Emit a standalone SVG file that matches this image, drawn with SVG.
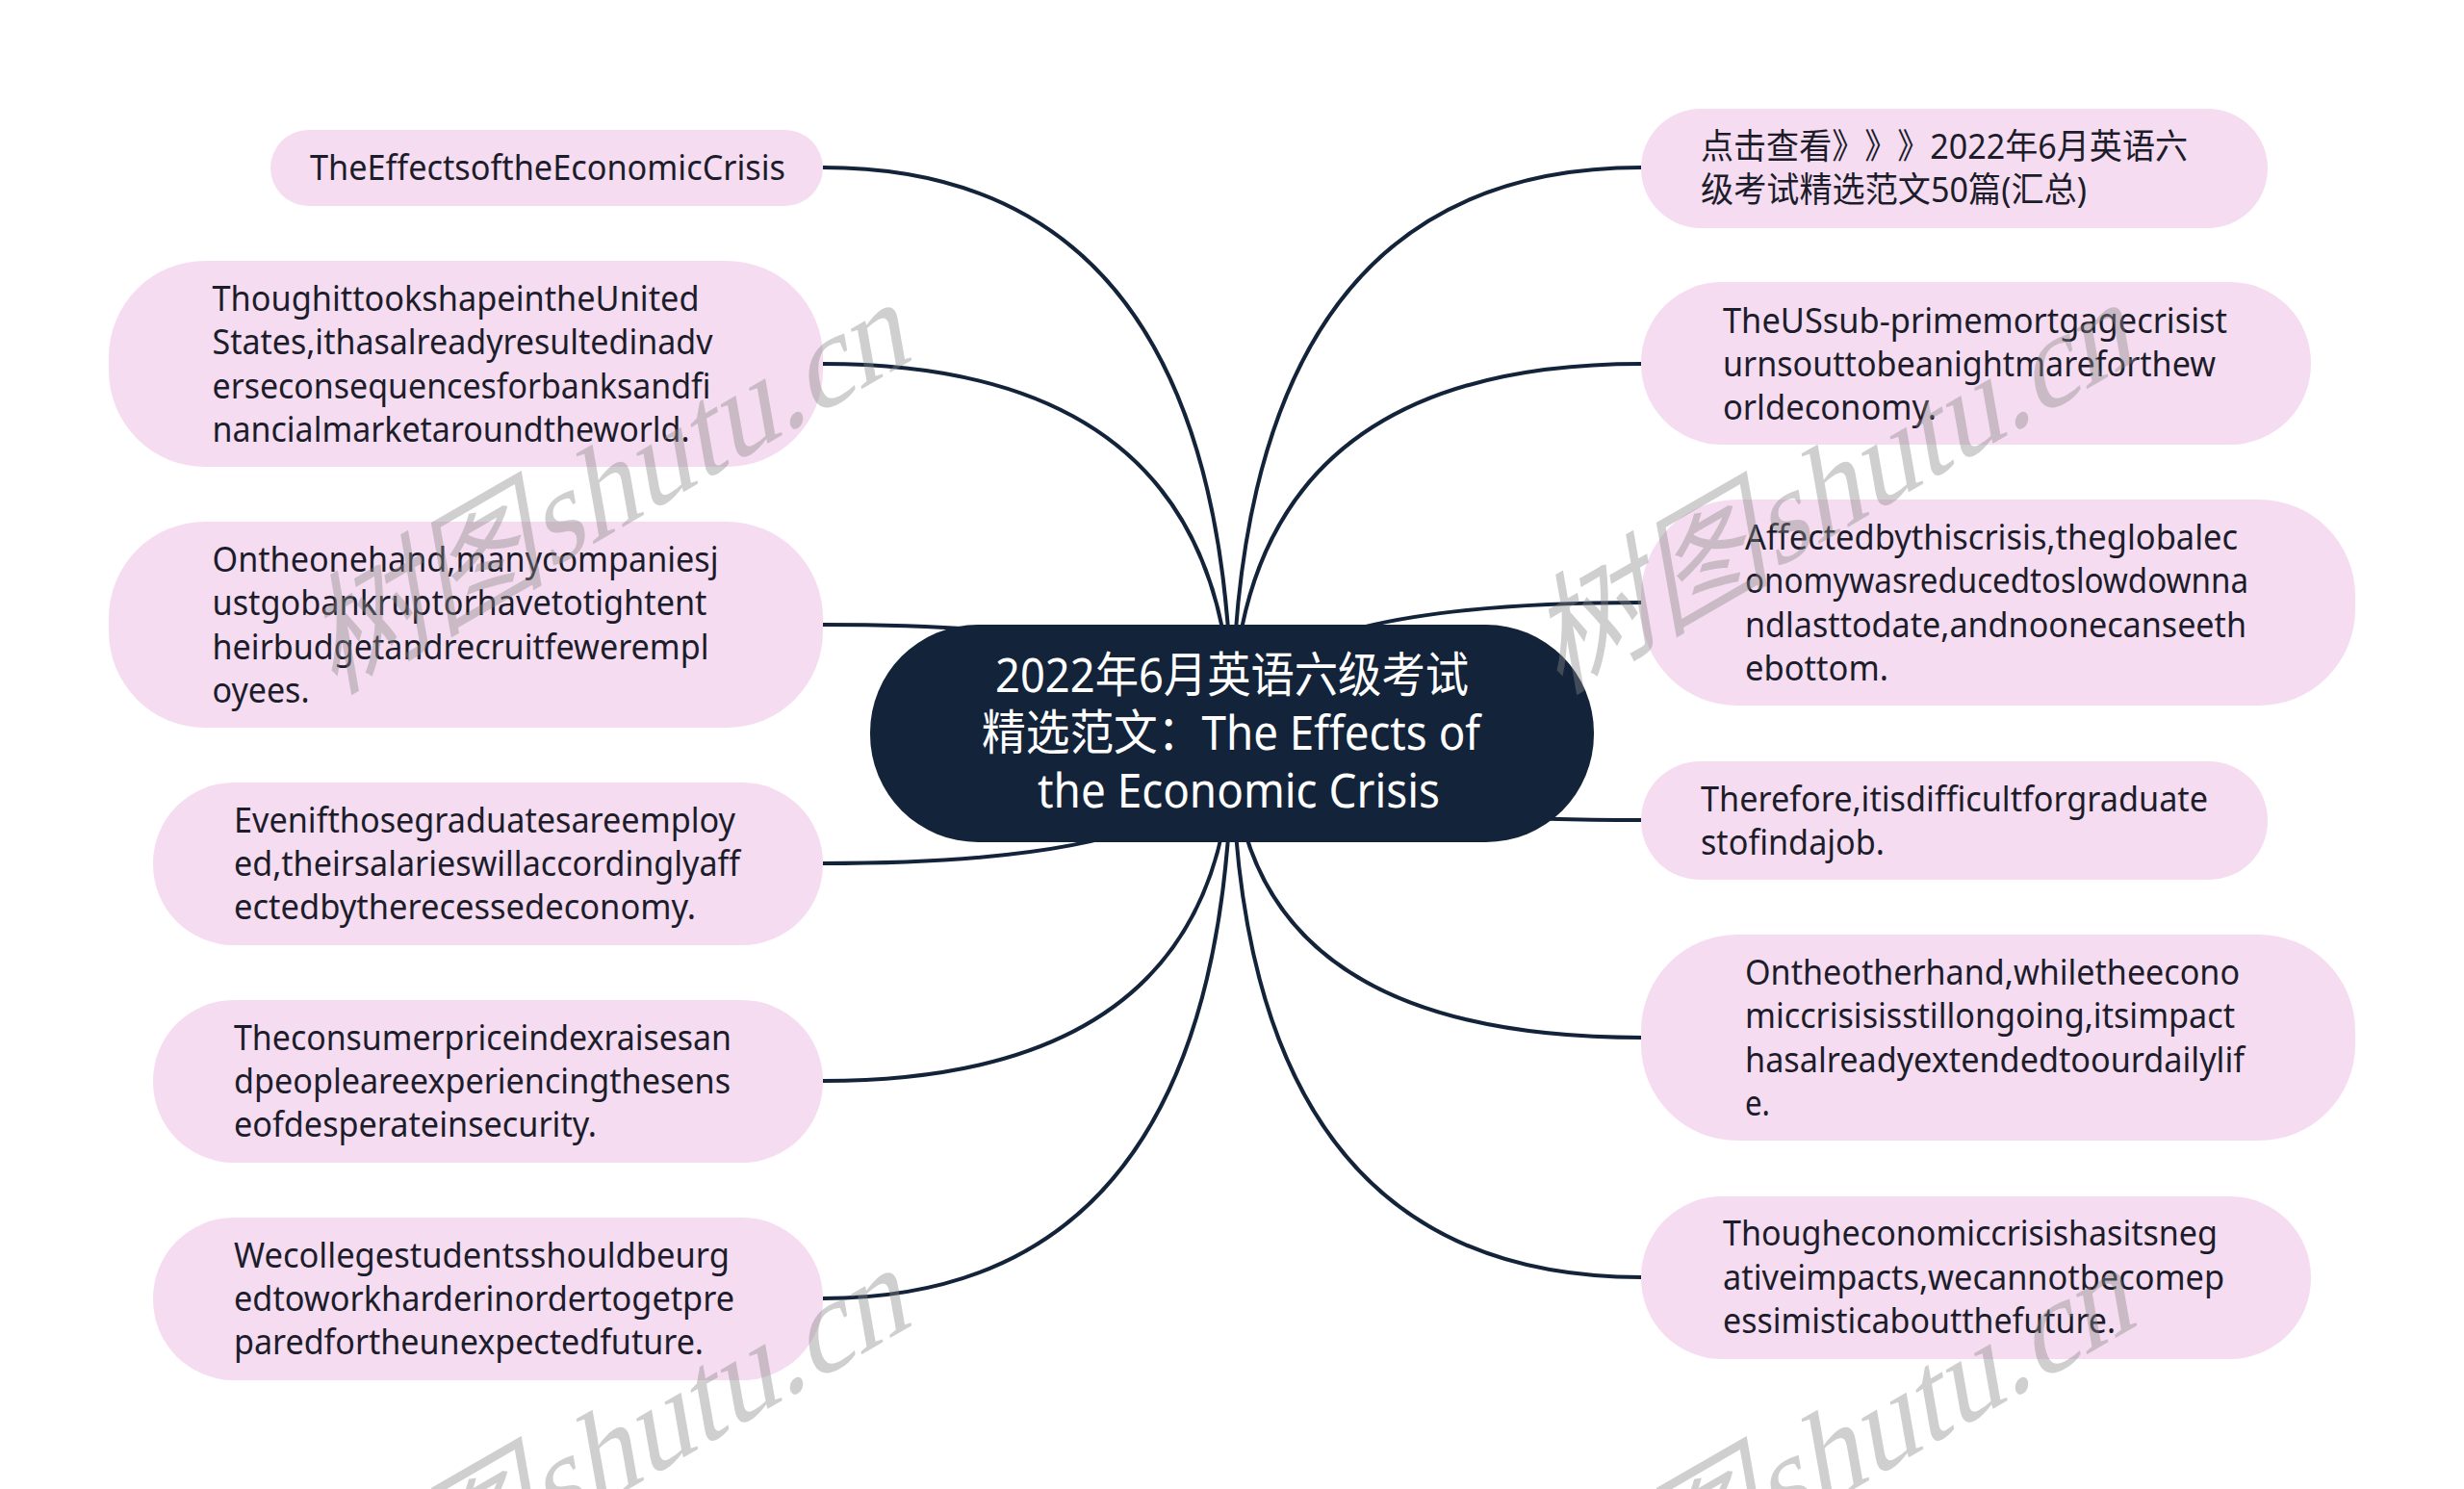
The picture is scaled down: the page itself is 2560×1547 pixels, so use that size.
<svg xmlns="http://www.w3.org/2000/svg" width="2560" height="1547" viewBox="0 0 2560 1547">
<style>
.n{fill:#f5dcf1}
.t{font-family:"Noto Sans","Noto Sans CJK SC",sans-serif;font-size:36px;fill:#1c1c2b}
.c{font-family:"Noto Sans","Noto Sans CJK SC",sans-serif;font-size:50px;fill:#fff}
.nk{font-kerning:none;font-feature-settings:"chws" 0,"palt" 0;text-spacing-trim:space-all}
.l{fill:none;stroke:#13233a;stroke-width:4}
.w{font-family:"Liberation Serif","Noto Sans CJK SC",serif;font-size:130px;word-spacing:-32px;fill:#888;opacity:.4}
</style>
<rect width="2560" height="1547" fill="#fff"/>
<g id="connectors">
<path class="l" d="M855,174 Q1280,174 1280,762"/>
<path class="l" d="M855,378 Q1280,378 1280,762"/>
<path class="l" d="M855,649 Q1280,649 1280,762"/>
<path class="l" d="M855,897 Q1280,897 1280,762"/>
<path class="l" d="M855,1123 Q1280,1123 1280,762"/>
<path class="l" d="M855,1349 Q1280,1349 1280,762"/>
<path class="l" d="M1705,174 Q1280,174 1280,762"/>
<path class="l" d="M1705,378 Q1280,378 1280,762"/>
<path class="l" d="M1705,626 Q1280,626 1280,762"/>
<path class="l" d="M1705,852 Q1280,852 1280,762"/>
<path class="l" d="M1705,1078 Q1280,1078 1280,762"/>
<path class="l" d="M1705,1327 Q1280,1327 1280,762"/>
</g>
<g id="center"><rect x="904" y="649" width="752" height="226" rx="112" fill="#13233a"/>
<text class="c" x="1034" y="718.500" textLength="492" lengthAdjust="spacingAndGlyphs">2022年6月英语六级考试</text>
<text class="c" x="1020" y="778.500" textLength="518" lengthAdjust="spacingAndGlyphs">精选范文：The Effects of</text>
<text class="c" x="1078" y="838.500" textLength="418" lengthAdjust="spacingAndGlyphs">the Economic Crisis</text></g>
<g id="l1"><rect class="n" x="281" y="135" width="574" height="79" rx="39.5"/>
<text class="t" x="322" y="187" textLength="494" lengthAdjust="spacingAndGlyphs">TheEffectsoftheEconomicCrisis</text></g>
<g id="l2"><rect class="n" x="113" y="271" width="742" height="214" rx="100"/>
<text class="t" x="220.500" y="322.500" textLength="506" lengthAdjust="spacingAndGlyphs">ThoughittookshapeintheUnited</text>
<text class="t" x="220.500" y="367.500" textLength="520" lengthAdjust="spacingAndGlyphs">States,ithasalreadyresultedinadv</text>
<text class="t" x="220.500" y="413.500" textLength="518" lengthAdjust="spacingAndGlyphs">erseconsequencesforbanksandfi</text>
<text class="t" x="220.500" y="458.500" textLength="496" lengthAdjust="spacingAndGlyphs">nancialmarketaroundtheworld.</text></g>
<g id="l3"><rect class="n" x="113" y="542" width="742" height="214" rx="100"/>
<text class="t" x="220.500" y="593.500" textLength="526" lengthAdjust="spacingAndGlyphs">Ontheonehand,manycompaniesj</text>
<text class="t" x="220.500" y="638.500" textLength="514" lengthAdjust="spacingAndGlyphs">ustgobankruptorhavetotightent</text>
<text class="t" x="220.500" y="684.500" textLength="516" lengthAdjust="spacingAndGlyphs">heirbudgetandrecruitfewerempl</text>
<text class="t" x="220.500" y="729.500" textLength="101" lengthAdjust="spacingAndGlyphs">oyees.</text></g>
<g id="l4"><rect class="n" x="159" y="813" width="696" height="169" rx="84"/>
<text class="t" x="243" y="864.500" textLength="521" lengthAdjust="spacingAndGlyphs">Evenifthosegraduatesareemploy</text>
<text class="t" x="243" y="909.500" textLength="526" lengthAdjust="spacingAndGlyphs">ed,theirsalarieswillaccordinglyaff</text>
<text class="t" x="243" y="954.500" textLength="480" lengthAdjust="spacingAndGlyphs">ectedbytherecessedeconomy.</text></g>
<g id="l5"><rect class="n" x="159" y="1039" width="696" height="169" rx="84"/>
<text class="t" x="243" y="1090.500" textLength="517" lengthAdjust="spacingAndGlyphs">Theconsumerpriceindexraisesan</text>
<text class="t" x="243" y="1135.500" textLength="516" lengthAdjust="spacingAndGlyphs">dpeopleareexperiencingthesens</text>
<text class="t" x="243" y="1180.500" textLength="377" lengthAdjust="spacingAndGlyphs">eofdesperateinsecurity.</text></g>
<g id="l6"><rect class="n" x="159" y="1265" width="696" height="169" rx="84"/>
<text class="t" x="243" y="1316.500" textLength="515" lengthAdjust="spacingAndGlyphs">Wecollegestudentsshouldbeurg</text>
<text class="t" x="243" y="1362" textLength="520" lengthAdjust="spacingAndGlyphs">edtoworkharderinordertogetpre</text>
<text class="t" x="243" y="1406.500" textLength="488" lengthAdjust="spacingAndGlyphs">paredfortheunexpectedfuture.</text></g>
<g id="r1"><rect class="n" x="1705" y="113" width="651" height="124" rx="62"/>
<text class="t nk" x="1767" y="165" textLength="506" lengthAdjust="spacingAndGlyphs">点击查看》》》2022年6月英语六</text>
<text class="t nk" x="1767" y="210" textLength="401" lengthAdjust="spacingAndGlyphs">级考试精选范文50篇(汇总)</text></g>
<g id="r2"><rect class="n" x="1705" y="293" width="696" height="169" rx="84"/>
<text class="t" x="1790" y="345.500" textLength="524" lengthAdjust="spacingAndGlyphs">TheUSsub-primemortgagecrisist</text>
<text class="t" x="1790" y="390.500" textLength="512" lengthAdjust="spacingAndGlyphs">urnsouttobeanightmareforthew</text>
<text class="t" x="1790" y="435.500" textLength="222" lengthAdjust="spacingAndGlyphs">orldeconomy.</text></g>
<g id="r3"><rect class="n" x="1705" y="519" width="742" height="214" rx="100"/>
<text class="t" x="1813" y="570.500" textLength="512" lengthAdjust="spacingAndGlyphs">Affectedbythiscrisis,theglobalec</text>
<text class="t" x="1813" y="615.500" textLength="523" lengthAdjust="spacingAndGlyphs">onomywasreducedtoslowdownna</text>
<text class="t" x="1813" y="661.500" textLength="521" lengthAdjust="spacingAndGlyphs">ndlasttodate,andnoonecanseeth</text>
<text class="t" x="1813" y="706.500" textLength="149" lengthAdjust="spacingAndGlyphs">ebottom.</text></g>
<g id="r4"><rect class="n" x="1705" y="791" width="651" height="123" rx="61"/>
<text class="t" x="1767" y="842.500" textLength="527" lengthAdjust="spacingAndGlyphs">Therefore,itisdifficultforgraduate</text>
<text class="t" x="1767" y="887.500" textLength="191" lengthAdjust="spacingAndGlyphs">stofindajob.</text></g>
<g id="r5"><rect class="n" x="1705" y="971" width="742" height="214" rx="100"/>
<text class="t" x="1813" y="1022.500" textLength="514" lengthAdjust="spacingAndGlyphs">Ontheotherhand,whiletheecono</text>
<text class="t" x="1813" y="1067.500" textLength="509" lengthAdjust="spacingAndGlyphs">miccrisisisstillongoing,itsimpact</text>
<text class="t" x="1813" y="1113.500" textLength="519" lengthAdjust="spacingAndGlyphs">hasalreadyextendedtoourdailylif</text>
<text class="t" x="1813" y="1158.500" textLength="26" lengthAdjust="spacingAndGlyphs">e.</text></g>
<g id="r6"><rect class="n" x="1705" y="1243" width="696" height="169" rx="84"/>
<text class="t" x="1790" y="1294" textLength="514" lengthAdjust="spacingAndGlyphs">Thougheconomiccrisishasitsneg</text>
<text class="t" x="1790" y="1340" textLength="521" lengthAdjust="spacingAndGlyphs">ativeimpacts,wecannotbecomep</text>
<text class="t" x="1790" y="1385" textLength="408" lengthAdjust="spacingAndGlyphs">essimisticaboutthefuture.</text></g>
<g id="watermarks">
<text class="w" transform="translate(345,722) rotate(-30) skewX(-20)">树图 shutu.cn</text>
<text class="w" transform="translate(1618,722) rotate(-30) skewX(-20)">树图 shutu.cn</text>
<text class="w" transform="translate(345,1725) rotate(-30) skewX(-20)">树图 shutu.cn</text>
<text class="w" transform="translate(1618,1725) rotate(-30) skewX(-20)">树图 shutu.cn</text>
</g>
</svg>
